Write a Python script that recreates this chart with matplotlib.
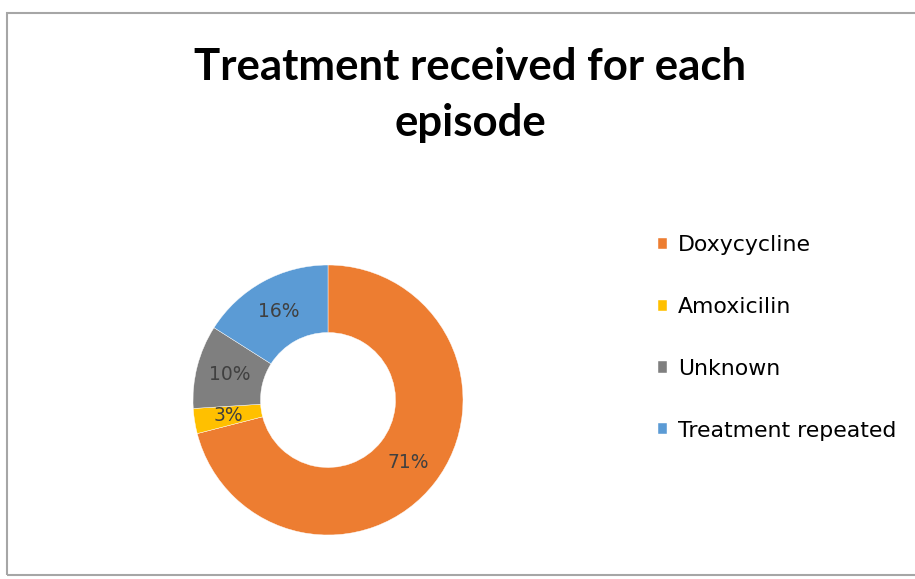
import matplotlib.pyplot as plt
from matplotlib.patches import Rectangle

labels = ["Doxycycline", "Amoxicilin", "Unknown", "Treatment repeated"]
shares = [71, 3, 10, 16]
colors = ["#ED7D31", "#FFC000", "#7F7F7F", "#5B9BD5"]

W, H = 915, 579
fig = plt.figure(figsize=(W / 100, H / 100), dpi=100)
fig.patch.set_facecolor("white")

# chart frame
fig.patches.append(Rectangle((7 / W, 4 / H), 1.0, (575 - 13) / H,
                             transform=fig.transFigure, fill=False,
                             edgecolor="#A6A6A6", linewidth=1.5))

fig.text(470 / W, 1 - 95 / H, "Treatment received for each\nepisode",
         ha="center", va="center", fontsize=31.5, fontweight="bold",
         family=["Lato", "DejaVu Sans"],
         linespacing=1.48, color="black")

# donut, centred at (328, 400) px with radius 135 px
ax = fig.add_axes([(328 - 135) / W, (H - 400 - 135) / H, 270 / W, 270 / H])
wedges, texts, autotexts = ax.pie(
    shares, colors=colors, startangle=90, counterclock=False,
    radius=1, autopct="%d%%", pctdistance=0.75,
    wedgeprops=dict(width=0.5, edgecolor="white", linewidth=0.3),
    textprops=dict(fontsize=13.5, color="#404040"))
ax.set_xlim(-1, 1)
ax.set_ylim(-1, 1)
ax.set_aspect("equal")
ax.axis("off")

fig.legend(wedges, labels, loc="center left",
           bbox_to_anchor=(658 / W, 1 - 338 / H), frameon=False,
           fontsize=15.8, handlelength=0.42, handleheight=0.42,
           handletextpad=0.5, labelspacing=1.9, borderpad=0,
           borderaxespad=0)

fig.savefig("out.png", dpi=100)
